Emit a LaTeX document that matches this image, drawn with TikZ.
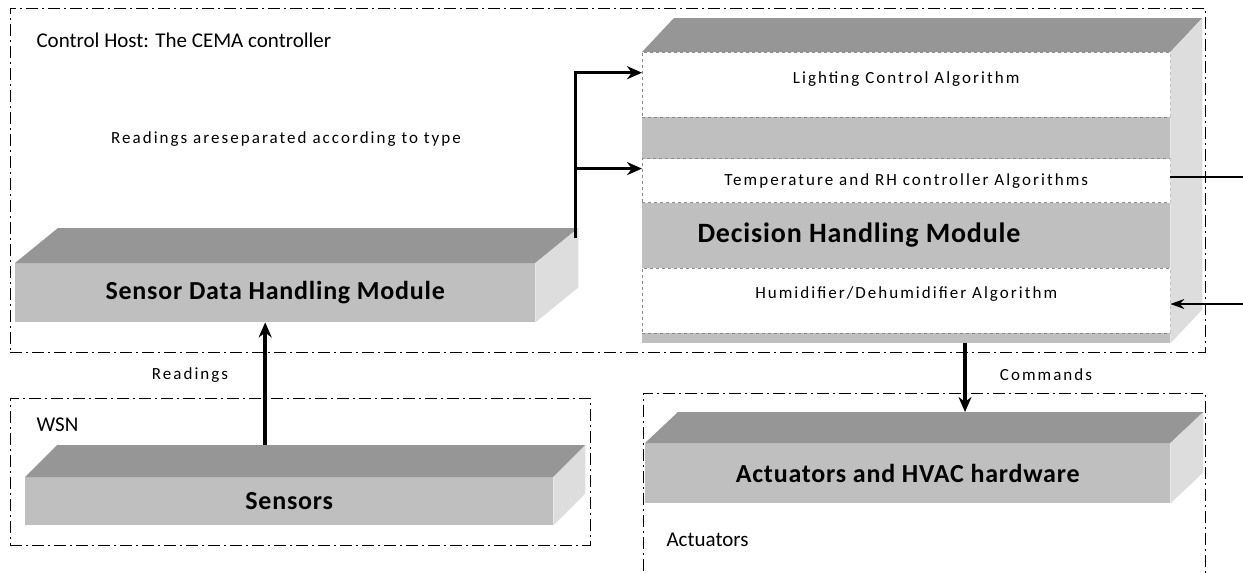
\documentclass[tikz,border=0pt]{standalone}
\usepackage{fontspec}
\setmainfont{Carlito}
\newfontfamily\smallfont[LetterSpace=12]{Carlito}
\newfontfamily\modfont[LetterSpace=3]{Carlito}
\usetikzlibrary{arrows, arrows.meta, positioning, calc}

\begin{document}
\begin{tikzpicture}[
    x=1pt, y=-1pt,
    group/.style={rectangle, draw=black, line width=0.8pt, dash pattern=on 12pt off 4pt on 2pt off 4pt, anchor=north west, inner sep=0pt},
    front/.style={rectangle, fill=gray!50, anchor=north west, inner sep=0pt, font=\modfont\bfseries\fontsize{26}{30}\selectfont},
    band/.style={rectangle, draw=gray!90, dashed, fill=white, minimum width=528pt, inner sep=0pt, font=\smallfont\fontsize{17}{20}\selectfont},
    topface/.style={fill=gray!82},
    sideface/.style={fill=gray!27},
    arrow/.style={-{Stealth[length=15pt, width=13pt]}, line width=3.5pt},
    thinline/.style={line width=1.2pt},
    lbl/.style={font=\smallfont\fontsize{17}{20}\selectfont},
    title/.style={anchor=west, font=\fontsize{21}{25}\selectfont}
]
\useasboundingbox (0,0) rectangle (1243,573);
\clip (0,0) rectangle (1243,573);
\fill[white] (0,0) rectangle (1243,573);

% Groups
\node[group, minimum width=1195pt, minimum height=344pt] (host) at (10,8) {};
\node[group, minimum width=580pt, minimum height=147pt] (wsn) at (10,398) {};
\node[group, minimum width=562pt, minimum height=250pt] (act) at (643,393) {};

\node[title] (hostlbl) at (33,40) {Control Host: The CEMA controller};
\node[title] (wsnlbl) at (33,425) {WSN};
\node[title] (actlbl) at (663,540) {Actuators};

\node[lbl] (sortlbl) at (286,139) {Readings areseparated according to type};

% Modules
\node[front, minimum width=520pt, minimum height=59pt] (sdhm) at (15,263) {Sensor Data Handling Module};
\node[front, minimum width=528pt, minimum height=291pt] (dhm) at (642,52) {};
\node[front, minimum width=528pt, minimum height=48pt] (sens) at (25,477) {Sensors};
\node[front, minimum width=525pt, minimum height=60pt] (ahw) at (645,443) {Actuators and HVAC hardware};

% Algorithms
\node[band, minimum height=65pt, text depth=14pt, below=0pt of dhm.north] (light) {Lighting Control Algorithm};
\node[band, minimum height=44pt, below=41pt of light] (temp) {Temperature and RH controller Algorithms};
\node[band, minimum height=65pt, text depth=16pt, below=65pt of temp] (humid) {Humidifier/Dehumidifier Algorithm};
\node[anchor=west, font=\modfont\bfseries\fontsize{28}{33}\selectfont] (dhmlbl) at ($(temp.south west)+(52pt,-32pt)$) {Decision Handling Module};

% 3D faces
\foreach \n/\dx/\dy in {sdhm/43/35, dhm/32/34, sens/32/32, ahw/33/31} {
  \fill[topface] (\n.north west) -- ++(\dx pt,\dy pt) -- ($(\n.north east)+(\dx pt,\dy pt)$) -- (\n.north east) -- cycle;
  \fill[sideface] (\n.north east) -- ++(\dx pt,\dy pt) -- ($(\n.south east)+(\dx pt,\dy pt)$) -- (\n.south east) -- cycle;
}

% Arrows
\coordinate (split) at ($(sdhm.north east)+(40pt,25pt)$);
\draw[arrow] (split) |- ($(light.west)+(0,12pt)$);
\draw[arrow] (split) |- ($(temp.west)+(0,12pt)$);

\draw[arrow] ($(sens.north -| sdhm.south)+(-10pt,32pt)$) -- ($(sdhm.south)+(-10pt,0)$);
\node[lbl] (rdlbl) at (190,375) {Readings};

\coordinate (cmd) at (965,0);
\draw[arrow] (dhm.south -| cmd) -- ($(ahw.north -| cmd)+(0,31pt)$);
\node[lbl] (cmdlbl) at (1046,375) {Commands};

\coordinate (tout) at (1250,177);
\coordinate (hin) at (1250,304);
\draw[thinline] (temp.east |- tout) -- (tout);
\draw[thinline, -{Stealth[length=14pt, width=10pt]}] (hin) -- (humid.east |- hin);

\end{tikzpicture}
\end{document}
